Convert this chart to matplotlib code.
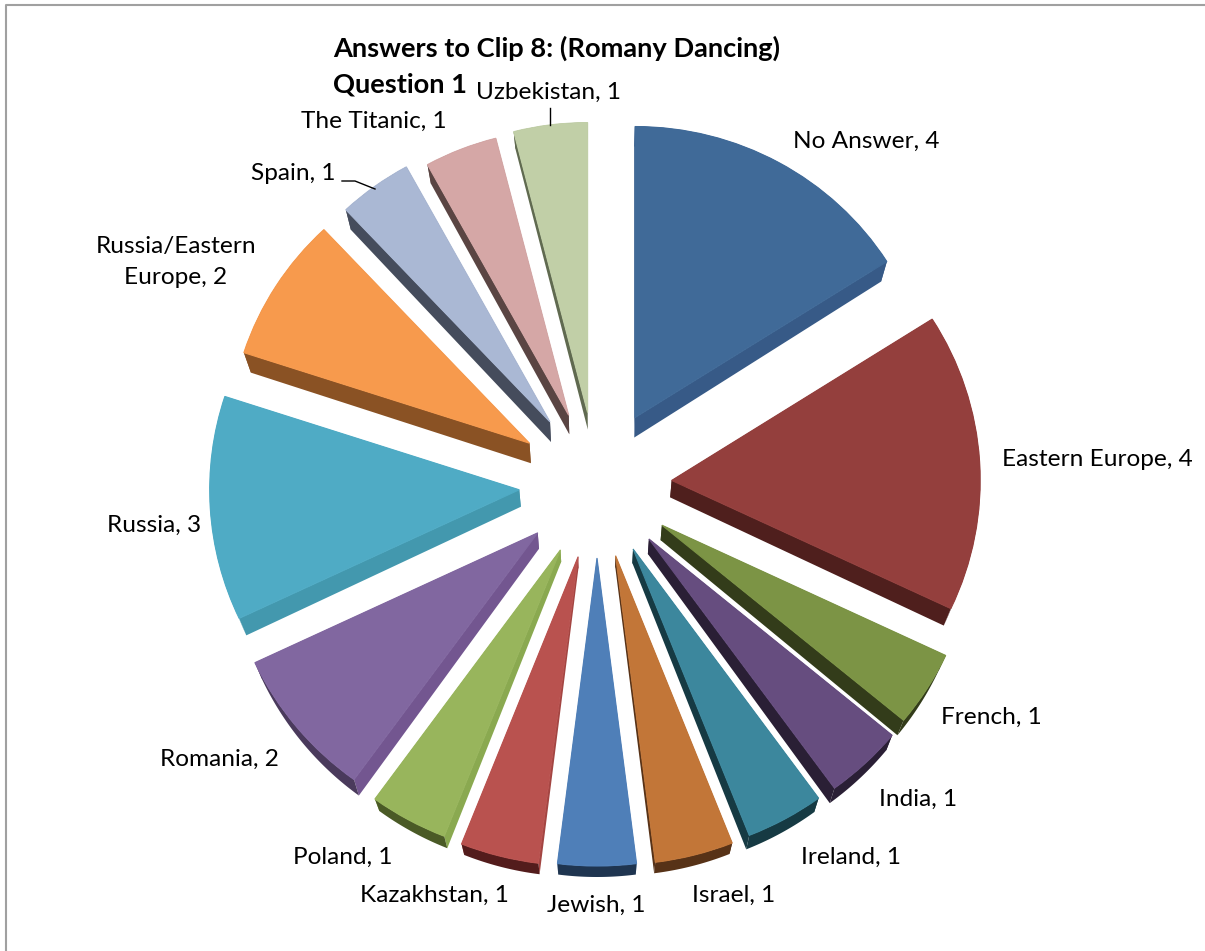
import numpy as np
import matplotlib
matplotlib.use("Agg")
import matplotlib.pyplot as plt
from matplotlib.transforms import Affine2D

plt.rcParams["font.family"] = ["Lato", "DejaVu Sans"]

categories = ["No Answer", "Eastern Europe", "French", "India", "Ireland", "Israel", "Jewish",
              "Kazakhstan", "Poland", "Romania", "Russia", "Russia/Eastern\nEurope", "Spain",
              "The Titanic", "Uzbekistan"]
values = [4, 4, 1, 1, 1, 1, 1, 1, 1, 2, 3, 2, 1, 1, 1]

top_colors = ["#406a98", "#943f3d", "#7c9445", "#664d7f", "#3c879d", "#c27638", "#4f7fb8", "#b9524f",
              "#98b55c", "#8167a0", "#4fabc5", "#f79a4d", "#aab8d4", "#d5a7a6", "#c1cfa7"]
edge_colors = ["#375a87", "#4f1f1d", "#333c1a", "#2a1f35", "#163a43", "#573217", "#3f6a9f", "#a34542",
               "#8aa950", "#735690", "#4398ae", "#8a5224", "#454c5c", "#5a4543", "#606a50"]
arc_colors = ["#375a87", "#4f1f1d", "#333c1a", "#2a1f35", "#163a43", "#573217", "#1f3550", "#531c1c",
              "#4a5a26", "#4a3a5c", "#4398ae", "#8a5224", "#454c5c", "#5a4543", "#606a50"]

# per slice layout, the original has perspective so back slices come out shorter
explode = [77, 73, 75, 74, 73, 73, 73, 74, 74, 75, 76, 78, 78, 75, 73]
radii = [291, 301, 306, 308, 308, 309, 308, 309, 308, 305, 302, 293, 291, 286, 290]
depths = [20, 17, 15, 15, 14, 11, 11, 11, 12, 16, 17, 20, 20, 19, 17]

label_pos = [(866, 141), (1097, 460), (991, 717), (918, 799), (851, 857), (734, 895), (596, 905),
             (434, 895), (343, 857), (219, 759), (154, 525), (176, 262), (293, 174), (374, 121), (549, 92)]

CX, CY = 597, 485
X_STRETCH = 1.025


def side_point(x, y, depth):
    # lower face sits a bit closer to the middle in x
    return CX + (x - CX) * 0.98, y + depth


def draw_sides(ax, wedge, depth, edge_color, arc_color, trans):
    x0, y0 = wedge.center
    angles = np.radians(np.linspace(wedge.theta1, wedge.theta2, 60))
    xs = x0 + wedge.r * np.cos(angles)
    ys = y0 + wedge.r * np.sin(angles)
    bx, by = side_point(xs, ys, depth)
    ax0, ay0 = side_point(x0, y0, depth)

    for px, py, qx, qy in [(xs[0], ys[0], bx[0], by[0]), (xs[-1], ys[-1], bx[-1], by[-1])]:
        ax.fill([x0, px, qx, ax0], [y0, py, qy, ay0], color=edge_color, lw=0, zorder=1, transform=trans)
    ax.fill(np.r_[xs, bx[::-1]], np.r_[ys, by[::-1]], color=arc_color, lw=0, zorder=1.5, transform=trans)


fig = plt.figure(figsize=(12.05, 9.51), dpi=100)
ax = fig.add_axes([0, 0, 1, 1])

# y axis runs downward, so startangle -90 is the top and slices go clockwise
wedges, _ = ax.pie(values, colors=top_colors, explode=explode, center=(CX, CY), radius=307,
                   startangle=-90, counterclock=True)
ax.set_aspect("auto")
ax.set_xlim(0, 1205)
ax.set_ylim(951, 0)

stretch = Affine2D().translate(-CX, -CY).scale(X_STRETCH, 1).translate(CX, CY) + ax.transData
for w, r, d, col, ec, ac in zip(wedges, radii, depths, top_colors, edge_colors, arc_colors):
    w.set_radius(r)
    w.set_zorder(2)
    w.set_transform(stretch)
    w.set_edgecolor(col)
    w.set_linewidth(0.8)
    draw_sides(ax, w, d, ec, ac, stretch)

for name, val, (x, y) in zip(categories, values, label_pos):
    ax.text(x, y, f"{name}, {val}", ha="center", va="center", fontsize=17.6, color="black",
            linespacing=1.55, zorder=5)

ax.text(333, 48, "Answers to Clip 8: (Romany Dancing)", fontsize=19.6, fontweight="bold", va="center", zorder=5)
ax.text(333, 84, "Question 1", fontsize=19.6, fontweight="bold", va="center", zorder=5)

# leader lines
ax.plot([550, 550], [108, 125], color="black", lw=1, zorder=3)
ax.plot([342, 355, 375], [181, 181, 189], color="black", lw=1, zorder=3)

# chart border, only top and left are in the picture
ax.plot([6, 6, 1205], [951, 5, 5], color="#a0a0a0", lw=1.5, zorder=6, clip_on=False)

fig.savefig("out.png", dpi=100)
